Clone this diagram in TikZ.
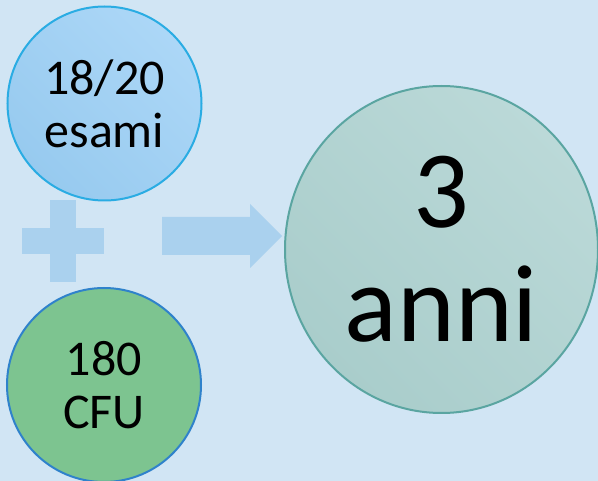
\documentclass[tikz,border=0pt]{standalone}
\usepackage{fontspec}
\setmainfont{Carlito}
\usetikzlibrary{positioning}
\usetikzlibrary{shapes.geometric}

\definecolor{sfondo}{HTML}{D1E5F4}
\definecolor{celeste}{HTML}{ACD7F7}
\definecolor{celestescuro}{HTML}{97CAEF}
\definecolor{bordoceleste}{HTML}{2AACE3}
\definecolor{verde}{HTML}{7DC490}
\definecolor{bordoblu}{HTML}{2F82CB}
\definecolor{segno}{HTML}{AAD1EE}
\definecolor{acqua}{HTML}{BBD9D8}
\definecolor{acquascuro}{HTML}{A9CDCB}
\definecolor{bordoacqua}{HTML}{5AA5A1}

\tikzset{
  cerchio/.style={circle, minimum size=194pt, inner sep=0pt, line width=2pt,
    align=center, font=\fontsize{50}{53}\selectfont},
  segnopiu/.style={fill=segno},
}

\begin{document}
\begin{tikzpicture}[x=1pt,y=-1pt]
      \fill[sfondo] (0,0) rectangle (598,481);
      \useasboundingbox (0,0) rectangle (598,481);

      \node[cerchio, draw=bordoceleste, top color=celeste, bottom color=celestescuro,
        shading angle=-45] (esami) at (104.5,103.5) {18/20\\esami};
      \node[cerchio, draw=bordoblu, fill=verde] (cfu) at (104,385) {180\\CFU};

      % segno piu
      \coordinate (piu) at (63,241);
      \fill[segnopiu] ([xshift=-41pt,yshift=-13pt]piu) rectangle ([xshift=41pt,yshift=13pt]piu);
      \fill[segnopiu] ([xshift=-13pt,yshift=-41pt]piu) rectangle ([xshift=13pt,yshift=41pt]piu);

      % freccia
      \coordinate (freccia) at (162,236);
      \fill[segnopiu] (freccia) ++(0,-19) -- ++(88,0) -- ++(0,-13) -- ++(32,32)
        -- ++(-32,32) -- ++(0,-13) -- ++(-88,0) -- cycle;

      \node[ellipse, minimum width=313pt, minimum height=327pt, inner sep=0pt,
        line width=2pt, draw=bordoacqua, top color=acqua, bottom color=acquascuro,
        shading angle=-45, align=center,
        font=\fontsize{110}{114}\selectfont] (anni) at (441.5,249.5) {3\\anni};
    \end{tikzpicture}
\end{document}
